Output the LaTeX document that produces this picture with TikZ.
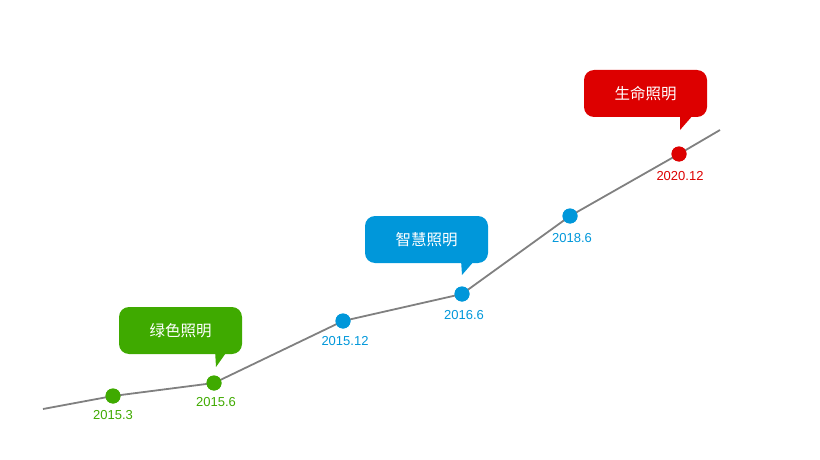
\documentclass[tikz,border=0pt]{standalone}
\usepackage{fontspec}
\setmainfont{Liberation Sans}
\newfontfamily\cjk{Noto Sans CJK SC}
\definecolor{cgreen}{HTML}{3FAA00}
\definecolor{cblue}{HTML}{0097DA}
\definecolor{cred}{HTML}{DD0000}
\definecolor{cline}{HTML}{808080}
\begin{document}
\begin{tikzpicture}[x=1pt,y=-1pt,
  dot/.style={circle,fill=#1,inner sep=0pt,minimum size=15pt},
  datelbl/.style={text=#1,font=\fontsize{13}{13}\selectfont,inner sep=0pt},
  bubble/.style={fill=#1,rounded corners=10pt,minimum width=123pt,minimum height=47pt,inner sep=0pt,text=white,font=\cjk\fontsize{15.5}{15.5}\selectfont},
  tail/.style={fill=#1}]
\useasboundingbox (0,0) rectangle (820,460);
\coordinate (s) at (43,409);
\coordinate (e) at (720,130);
\node[dot=cgreen] (p1) at (113,396) {};
\node[dot=cgreen] (p2) at (214,383) {};
\node[dot=cblue] (p3) at (343,321) {};
\node[dot=cblue] (p4) at (462,294) {};
\node[dot=cblue] (p5) at (570,216) {};
\node[dot=cred] (p6) at (679,154) {};
\draw[cline,line width=1.8pt] (s) -- (p1.center) -- (p2.center) -- (p3.center) -- (p4.center) -- (p5.center) -- (p6.center) -- (e);
\foreach \n/\c in {p1/cgreen,p2/cgreen,p3/cblue,p4/cblue,p5/cblue,p6/cred}{
  \node[dot=\c] at (\n) {};
}
\node[datelbl=cgreen] (l1) at (113,415) {2015.3};
\node[datelbl=cgreen] (l2) at (216,402) {2015.6};
\node[datelbl=cblue] (l3) at (345,341) {2015.12};
\node[datelbl=cblue] (l4) at (464,315) {2016.6};
\node[datelbl=cblue] (l5) at (572,238) {2018.6};
\node[datelbl=cred] (l6) at (680,176) {2020.12};
% bubbles
\node[bubble=cgreen] (b1) at (180.5,330.5) {绿色照明};
\coordinate (t1) at (216,367);
\fill[cgreen] (215,350) -- (228,350) -- (t1) -- cycle;
\node[bubble=cblue] (b2) at (426.5,239.5) {智慧照明};
\coordinate (t2) at (462,275);
\fill[cblue] (461,260) -- (475,260) -- (t2) -- cycle;
\node[bubble=cred] (b3) at (645.5,93.5) {生命照明};
\coordinate (t3) at (680,130);
\fill[cred] (680,114) -- (694,114) -- (t3) -- cycle;
\end{tikzpicture}
\end{document}
